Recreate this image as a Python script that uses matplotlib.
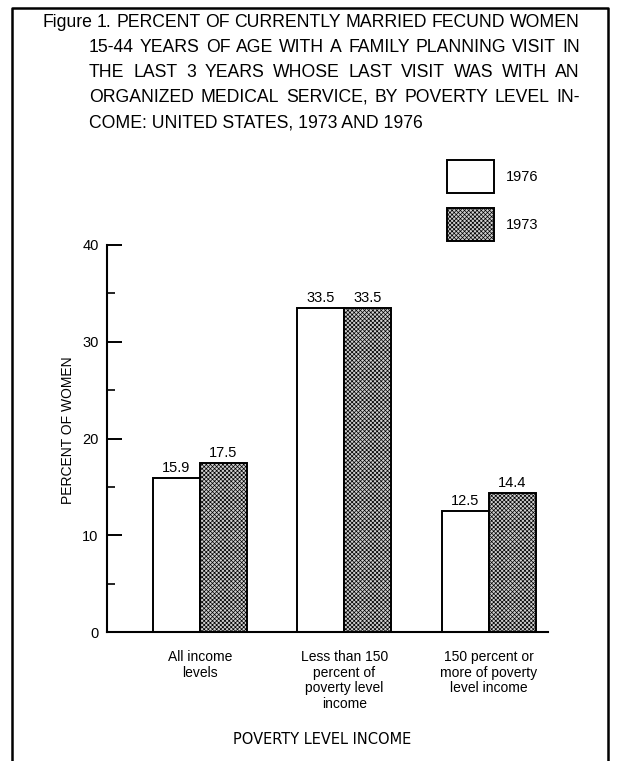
"""Figure 1 bar chart: organized medical service visits by poverty level income."""
import matplotlib
matplotlib.use('Agg')
import matplotlib.pyplot as plt
from matplotlib.lines import Line2D
from matplotlib.patches import Rectangle

CATEGORIES = [
    'All income\nlevels',
    'Less than 150\npercent of\npoverty level\nincome',
    '150 percent or\nmore of poverty\nlevel income',
]
VALUES_1976 = [15.9, 33.5, 12.5]
VALUES_1973 = [17.5, 33.5, 14.4]
SERIES = ['1976', '1973']
TITLE_LINES = [
    'Figure 1. PERCENT OF CURRENTLY MARRIED FECUND WOMEN',
    '15-44 YEARS OF AGE WITH A FAMILY PLANNING VISIT IN',
    'THE LAST 3 YEARS WHOSE LAST VISIT WAS WITH AN',
    'ORGANIZED MEDICAL SERVICE, BY POVERTY LEVEL IN-',
    'COME: UNITED STATES, 1973 AND 1976',
]

W, H = 619, 761
plt.rcParams['font.family'] = ['Liberation Sans', 'DejaVu Sans']
plt.rcParams['hatch.linewidth'] = 0.5
plt.rcParams['hatch.color'] = '#555555'

SHADE = '#cfcfcf'
PATTERN = 'xxxxxxxx'

fig = plt.figure(figsize=(W / 100, H / 100), dpi=100)


def fx(px):
    return px / W


def fy(py):
    return 1 - py / H


# page frame (open at the bottom)
fig.add_artist(Line2D([fx(12), fx(12), fx(608), fx(608)],
                      [0, fy(8), fy(8), 0], color='black', lw=1.8))

# title, justified like the typeset original (last line left aligned)
renderer = fig.canvas.get_renderer()
right_px = 580
for i, line in enumerate(TITLE_LINES):
    left_px = 42 if i == 0 else 89
    base = fy(27 + 25 * i)
    if i == len(TITLE_LINES) - 1:
        fig.text(fx(left_px), base, line, fontsize=12.7, ha='left', va='baseline')
        continue
    words = [fig.text(0, base, w, fontsize=12.7, ha='left', va='baseline')
             for w in line.split(' ')]
    widths = [t.get_window_extent(renderer).width for t in words]
    gap = (right_px - left_px - sum(widths)) / (len(words) - 1)
    pos = left_px
    for t, wd in zip(words, widths):
        t.set_x(fx(pos))
        pos += wd + gap

ax = fig.add_axes([fx(107), fy(632), fx(548) - fx(107), (632 - 245) / H])

x = list(range(len(CATEGORIES)))
bw = 0.325
ax.bar([i - bw / 2 for i in x], VALUES_1976, bw, color='white',
       edgecolor='black', lw=1.4)
ax.bar([i + bw / 2 for i in x], VALUES_1973, bw, color=SHADE,
       edgecolor='black', lw=1.4, hatch=PATTERN)

for i in x:
    ax.annotate(f'{VALUES_1976[i]:.1f}', (i - bw / 2, VALUES_1976[i]),
                xytext=(0, 2), textcoords='offset points', ha='center',
                va='bottom', fontsize=10.5)
    ax.annotate(f'{VALUES_1973[i]:.1f}', (i + bw / 2, VALUES_1973[i]),
                xytext=(0, 2), textcoords='offset points', ha='center',
                va='bottom', fontsize=10.5)

ax.set_xlim(-0.644, 2.41)
ax.set_ylim(0, 40)
ax.set_yticks([0, 10, 20, 30, 40])
ax.set_yticks([5, 15, 25, 35], minor=True)
ax.tick_params(axis='y', which='major', direction='in', length=11, width=1.4,
               labelsize=10.5, pad=6)
ax.tick_params(axis='y', which='minor', direction='in', length=6, width=1.2)
ax.set_xticks(x)
ax.set_xticklabels(CATEGORIES, fontsize=10, linespacing=1.15)
ax.tick_params(axis='x', length=0, pad=13)
for side in ('top', 'right'):
    ax.spines[side].set_visible(False)
for side in ('left', 'bottom'):
    ax.spines[side].set_linewidth(1.5)
ax.set_facecolor('none')

fig.text(fx(68), fy(430), 'PERCENT OF WOMEN', rotation=90, fontsize=10,
         ha='center', va='center')
fig.text(fx(322), fy(740), 'POVERTY LEVEL INCOME', fontsize=10.5,
         ha='center', va='center', family='DejaVu Sans')

# legend boxes
for k, (label, top) in enumerate(zip(SERIES, [160, 208])):
    rect = Rectangle((fx(447), fy(top + 33)), fx(494) - fx(447), 33 / H,
                     transform=fig.transFigure, facecolor='white' if k == 0 else SHADE,
                     edgecolor='black', lw=1.4, hatch=None if k == 0 else PATTERN)
    fig.add_artist(rect)
    fig.text(fx(506), fy(top + 17), label, fontsize=10.5, ha='left', va='center')

fig.savefig('out.png', dpi=100)
